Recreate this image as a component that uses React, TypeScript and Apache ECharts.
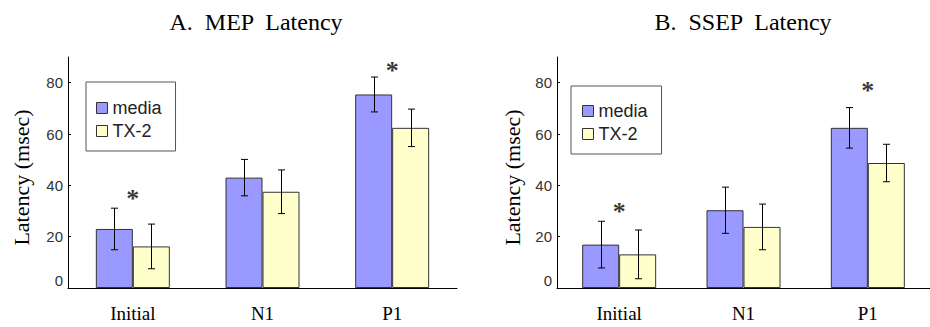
import React, { useEffect, useRef } from "react";
import * as echarts from "echarts";

const categories = ["Initial", "N1", "P1"];
const seriesNames = ["media", "TX-2"];
const yTicks = [0, 20, 40, 60, 80];

// A. MEP Latency
const mepMedia = [23, 43, 75.4];
const mepMediaErr = [8.1, 7.1, 6.8];
const mepTx = [16.2, 37.5, 62.4];
const mepTxErr = [8.7, 8.5, 7.3];
const mepStars = [[0, 36], [2, 86]];

// B. SSEP Latency
const ssepMedia = [16.9, 30.3, 62.4];
const ssepMediaErr = [9.1, 9.0, 7.9];
const ssepTx = [13.1, 23.8, 48.7];
const ssepTxErr = [9.5, 8.9, 7.3];
const ssepStars = [[0, 31], [2, 78]];

const SERIF = "'Liberation Serif', 'Times New Roman', serif";
const SANS = "'Liberation Sans', Arial, sans-serif";
const MEDIA_COLOR = "#9999FF";
const TX_COLOR = "#FFFFCC";
const BAR_W = 37;

function errData(vals: number[], errs: number[]) {
  return vals.map((v, i) => [i, v, errs[i]]);
}

function makeErrSeries(idx: number, vals: number[], errs: number[], offset: number) {
  return {
    type: "custom",
    xAxisIndex: idx,
    yAxisIndex: idx,
    silent: true,
    z: 5,
    data: errData(vals, errs),
    encode: { x: 0, y: 1 },
    renderItem: (params: any, api: any) => {
      const i = api.value(0);
      const v = api.value(1);
      const e = api.value(2);
      const top = api.coord([i, v + e]);
      const bot = api.coord([i, v - e]);
      const x = Math.round(top[0] + offset) + 0.5;
      const cap = 3.5;
      const style = { stroke: "#000", lineWidth: 1 };
      return {
        type: "group",
        children: [
          { type: "line", shape: { x1: x, y1: top[1], x2: x, y2: bot[1] }, style },
          { type: "line", shape: { x1: x - cap, y1: top[1], x2: x + cap, y2: top[1] }, style },
          { type: "line", shape: { x1: x - cap, y1: bot[1], x2: x + cap, y2: bot[1] }, style },
        ],
      };
    },
  };
}

function makeBar(idx: number, name: string, vals: number[], color: string) {
  return {
    type: "bar",
    name,
    xAxisIndex: idx,
    yAxisIndex: idx,
    data: vals,
    barWidth: BAR_W,
    barGap: "0%",
    itemStyle: { color, borderColor: "#333", borderWidth: 1 },
  };
}

function makeStars(idx: number, pts: number[][]) {
  return {
    type: "scatter",
    xAxisIndex: idx,
    yAxisIndex: idx,
    symbolSize: 0,
    silent: true,
    data: pts,
    label: {
      show: true,
      position: "inside",
      formatter: "*",
      fontFamily: SERIF,
      fontSize: 26,
      fontWeight: "bold",
      color: "#000",
      offset: [0, 3],
    },
  };
}

function makeXAxis(idx: number) {
  return {
    type: "category",
    gridIndex: idx,
    data: categories,
    boundaryGap: true,
    axisLine: { lineStyle: { color: "#000", width: 1 } },
    axisTick: { inside: true, length: 3, lineStyle: { color: "#000" } },
    axisLabel: { fontFamily: SERIF, fontSize: 19, color: "#000", margin: 16 },
  };
}

function makeYAxis(idx: number, gap: number) {
  return {
    type: "value",
    gridIndex: idx,
    min: 0,
    max: 90,
    interval: 20,
    name: "Latency (msec)",
    nameLocation: "middle",
    nameRotate: 90,
    nameGap: gap,
    nameTextStyle: { fontFamily: SERIF, fontSize: 22, color: "#000", padding: [0, 10, 0, 0] },
    axisLine: { show: true, lineStyle: { color: "#000", width: 1 } },
    axisTick: { show: true, inside: true, length: 3, lineStyle: { color: "#000" }, customValues: yTicks },
    splitLine: { show: false },
    axisLabel: {
      customValues: yTicks,
      fontFamily: SANS,
      fontSize: 15,
      color: "#333",
      margin: 5,
      formatter: (v: number) => (v === 0 ? "{z|0}" : String(v)),
      rich: { z: { fontFamily: SANS, fontSize: 15, color: "#333", padding: [0, 0, 16, 0] } },
    },
  };
}

function makeLegend(left: number, top: number, pad: number[]) {
  return {
    data: seriesNames,
    orient: "vertical",
    left,
    top,
    icon: "rect",
    itemWidth: 11,
    itemHeight: 11,
    itemGap: 5,
    padding: pad,
    borderColor: "#555",
    borderWidth: 1,
    backgroundColor: "#fff",
    itemStyle: { borderColor: "#333", borderWidth: 1 },
    textStyle: { fontFamily: SANS, fontSize: 18, color: "#222" },
    selectedMode: false,
  };
}

export default function App() {
  const ref = useRef<HTMLDivElement>(null);
  useEffect(() => {
    if (!ref.current) return;
    const chart = echarts.init(ref.current, undefined, { renderer: "svg" });
    chart.setOption({
      animation: false,
      backgroundColor: "#fff",
      grid: [
        { left: 68, right: 473, top: 57, bottom: 39 },
        { left: 557, right: -11, top: 57, bottom: 39 },
      ],
      xAxis: [makeXAxis(0), makeXAxis(1)],
      yAxis: [makeYAxis(0, 36), makeYAxis(1, 34)],
      legend: [makeLegend(86, 82, [17, 14, 11, 10]), makeLegend(571, 86, [16, 14, 11, 11])],
      graphic: [
        {
          type: "text",
          x: 256,
          y: 22,
          style: { text: "A.  MEP  Latency", font: `24px ${SERIF}`, fill: "#000", align: "center", verticalAlign: "middle" },
        },
        {
          type: "text",
          x: 743,
          y: 22,
          style: { text: "B.  SSEP  Latency", font: `24px ${SERIF}`, fill: "#000", align: "center", verticalAlign: "middle" },
        },
      ],
      series: [
        makeBar(0, "media", mepMedia, MEDIA_COLOR),
        makeBar(0, "TX-2", mepTx, TX_COLOR),
        makeErrSeries(0, mepMedia, mepMediaErr, -BAR_W / 2),
        makeErrSeries(0, mepTx, mepTxErr, BAR_W / 2),
        makeStars(0, mepStars),
        makeBar(1, "media", ssepMedia, MEDIA_COLOR),
        makeBar(1, "TX-2", ssepTx, TX_COLOR),
        makeErrSeries(1, ssepMedia, ssepMediaErr, -BAR_W / 2),
        makeErrSeries(1, ssepTx, ssepTxErr, BAR_W / 2),
        makeStars(1, ssepStars),
      ],
    });
    return () => chart.dispose();
  }, []);
  return (
    <div
      ref={ref}
      style={{ position: "absolute", left: 0, top: 0, width: 930, height: 327, background: "#fff" }}
    />
  );
}
